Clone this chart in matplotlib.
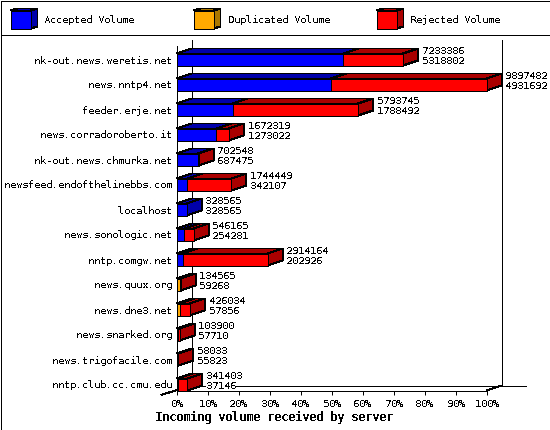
import matplotlib
matplotlib.use("Agg")
import matplotlib.pyplot as plt

hosts = ["nk-out.news.weretis.net", "news.nntp4.net", "feeder.erje.net",
         "news.corradoroberto.it", "nk-out.news.chmurka.net",
         "newsfeed.endofthelinebbs.com", "localhost", "news.sonologic.net",
         "nntp.comgw.net", "news.quux.org", "news.dne3.net",
         "news.snarked.org", "news.trigofacile.com", "nntp.club.cc.cmu.edu"]
total = [7233386, 9897482, 5793745, 1672319, 702548, 1744449, 328565,
         546165, 2914164, 134565, 426034, 103900, 58033, 341403]
accepted = [5318802, 4931692, 1788492, 1273022, 687475, 342107, 328565,
            254281, 202926, 59268, 57856, 57710, 55823, 37146]
duplicated = [0, 0, 0, 0, 0, 0, 0, 0, 0, 105000, 105000, 0, 0, 0]
tick_pcts = [0, 10, 20, 30, 40, 50, 60, 70, 80, 90, 100]
legend_names = ["Accepted Volume", "Duplicated Volume", "Rejected Volume"]
xlabel = "Incoming volume received by server"

BLUE, BLUE_D = "#0000ff", "#0000aa"
ORANGE, ORANGE_D = "#ffaa00", "#aa7700"
RED, RED_D = "#ff0000", "#aa0000"
FONT = "DejaVu Sans Mono"
FS = 7.2
LW = 0.72

plt.rcParams["text.antialiased"] = False
plt.rcParams["text.hinting"] = "native"
plt.rcParams["text.hinting_factor"] = 1
plt.rcParams["font.family"] = FONT
W, H = 550, 430
fig = plt.figure(figsize=(W / 100, H / 100), dpi=100, facecolor="white")

# pixel-space chrome layer (frame, walls, legend)
bg = fig.add_axes([0, 0, 1, 1], zorder=0)
bg.set_xlim(0, W)
bg.set_ylim(H, 0)
bg.axis("off")


def line(xs, ys):
    bg.plot(xs, ys, color="black", lw=LW, antialiased=False, solid_capstyle="butt")


line([0.5, 549.5, 549.5, 0.5, 0.5], [0.5, 0.5, 429.5, 429.5, 0.5])
line([0.5, 549.5], [35, 35])
line([191.5, 191.5], [40, 385.5])
line([501.5, 501.5], [40, 385.5])
line([191.5, 525.5], [385.5, 385.5])
line([161, 191.5], [395, 385.5])
line([486.5, 501.5], [390.5, 385.5])

legend_x = [10.5, 193.5, 376.5]
legend_tx = [44.5, 227.5, 410.5]
legend_cols = [(BLUE, BLUE_D), (ORANGE, ORANGE_D), (RED, RED_D)]
for x, tx, name, (c, d) in zip(legend_x, legend_tx, legend_names, legend_cols):
    bg.fill([x, x + 20, x + 27, x + 7], [10.5, 10.5, 8.5, 8.5], fc=d, ec="black", lw=LW, antialiased=False)
    bg.fill([x + 20, x + 27, x + 27, x + 20], [10.5, 8.5, 26.5, 28.5], fc=d, ec="black", lw=LW, antialiased=False)
    bg.fill([x, x + 20, x + 20, x], [10.5, 10.5, 28.5, 28.5], fc=c, ec="black", lw=LW, antialiased=False)
    bg.text(tx, 20, name, fontsize=FS, ha="left", va="center")

bg.text(274, 417, xlabel, fontsize=8.4, fontweight="bold", ha="center", va="center")
bg.set_xlim(0, W)
bg.set_ylim(H, 0)

# data layer
x0, x1 = 176.5, 486.5
ytop, ybot = 40.5, 390.5
ax = fig.add_axes([x0 / W, 1 - ybot / H, (x1 - x0) / W, (ybot - ytop) / H], zorder=1)
ax.patch.set_visible(False)
ax.set_xlim(0, 100)
first = 59.5
pitch = 25.0
ax.set_ylim((ybot - first) / pitch, (ytop - first) / pitch)

DX = 15 / 3.10
DY = 5 / pitch
BH = 12 / pitch
maxv = max(total)

for i in range(len(hosts)):
    a = accepted[i] / maxv * 100
    d = duplicated[i] / maxv * 100
    t = total[i] / maxv * 100
    if d > a:
        # the duplicated slice covers the accepted one in these thin bars
        segs = [(0, d, ORANGE, ORANGE_D), (d, t, RED, RED_D)]
    else:
        segs = [(0, a, BLUE, BLUE_D), (a, a + d, ORANGE, ORANGE_D), (a + d, t, RED, RED_D)]
    segs = [s for s in segs if s[1] - s[0] > 0.02]
    top, bottom = i - BH / 2, i + BH / 2
    for s, e, c, dk in segs:
        ax.fill([s, e, e + DX, s + DX], [top, top, top - DY, top - DY], fc=dk, ec="black",
                lw=LW, antialiased=False, clip_on=False, zorder=2)
    dk = segs[-1][3]
    ax.fill([t, t + DX, t + DX, t], [top, top - DY, bottom - DY, bottom], fc=dk, ec="black",
            lw=LW, antialiased=False, clip_on=False, zorder=2)
    for s, e, c, dk in segs:
        ax.barh(i, e - s, left=s, height=BH, color=c, edgecolor="black", linewidth=LW,
                antialiased=False, clip_on=False, zorder=3)
    lx = t + DX + 3.7 / 3.10
    ax.text(lx, i - 8.9 / pitch, f"{total[i]}", fontsize=FS, ha="left", va="center",
            bbox=dict(fc="white", ec="none", pad=0), zorder=4)
    ax.text(lx, i + 1.6 / pitch, f"{accepted[i]}", fontsize=FS, ha="left", va="center",
            bbox=dict(fc="white", ec="none", pad=0), zorder=4)

for side in ("top", "right"):
    ax.spines[side].set_visible(False)
for side in ("left", "bottom"):
    ax.spines[side].set_linewidth(LW)
    ax.spines[side].set_antialiased(False)
ax.spines["left"].set_bounds((ybot - first) / pitch, (45.5 - first) / pitch)

ax.set_yticks(range(len(hosts)))
ax.set_yticklabels(hosts, fontsize=FS)
ax.tick_params(axis="y", length=0, pad=3.2)
ax.set_xticks(tick_pcts)
ax.set_xticklabels([f"{p}%" for p in tick_pcts], fontsize=FS)
ax.tick_params(axis="x", length=3, width=LW, pad=3)

fig.savefig("out.png", dpi=100, facecolor="white")
